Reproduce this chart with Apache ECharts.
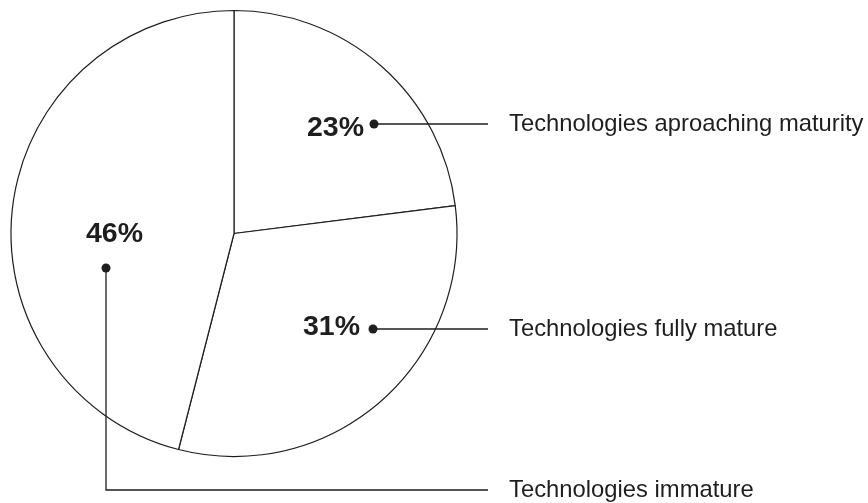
<!DOCTYPE html>
<html>
<head>
<meta charset="utf-8">
<script src="https://cdn.jsdelivr.net/npm/echarts@6/dist/echarts.min.js"></script>
<style>
  html, body { margin: 0; padding: 0; background: #fff; }
  #chart { width: 868px; height: 503px; }
</style>
</head>
<body>
<div id="chart"></div>
<script>
// slice data, clockwise from 12 o'clock
const names = ['Technologies aproaching maturity', 'Technologies fully mature', 'Technologies immature'];
const shares = [23, 31, 46];

// callout placement (pixels): percent text, dot, name text, leader line
const callouts = [
  { pct: [307, 128], dot: [374, 124], text: [509, 124], line: [[374, 124], [488, 124]] },
  { pct: [303, 327], dot: [373, 329], text: [509, 329], line: [[373, 329], [488, 329]] },
  { pct: [86, 234], dot: [106, 268], text: [509, 490], line: [[106, 268], [106, 490], [488, 490]] }
];

const pieData = names.map((n, i) => ({ name: n, value: shares[i] }));
const font = '"Liberation Sans", Arial, Helvetica, sans-serif';
const ink = '#1e1e1e';

const chart = echarts.init(document.getElementById('chart'));

const leaders = [];
callouts.forEach((c) => {
  leaders.push({
    type: 'polyline',
    z: 10,
    shape: { points: c.line },
    style: { stroke: ink, lineWidth: 1.3, fill: null }
  });
  leaders.push({
    type: 'circle',
    z: 11,
    shape: { cx: c.dot[0], cy: c.dot[1], r: 4.5 },
    style: { fill: ink }
  });
});

chart.setOption({
  backgroundColor: '#fff',
  animation: false,
  graphic: leaders,
  series: [
    {
      // the pie itself + names
      type: 'pie',
      center: [234, 233.5],
      radius: 223,
      startAngle: 90,
      clockwise: true,
      data: pieData,
      itemStyle: { color: '#fff', borderColor: ink, borderWidth: 1.2 },
      emphasis: { disabled: true },
      label: {
        show: true,
        position: 'inside',
        formatter: '{b}',
        color: ink,
        fontFamily: font,
        fontSize: 23.8
      },
      labelLine: { show: false },
      labelLayout: (p) => {
        const c = callouts[p.dataIndex];
        return { x: c.text[0], y: c.text[1], align: 'left', verticalAlign: 'middle' };
      }
    },
    {
      // percentages
      type: 'pie',
      center: [234, 233.5],
      radius: 223,
      startAngle: 90,
      clockwise: true,
      silent: true,
      z: 5,
      data: pieData,
      itemStyle: { color: 'transparent', borderWidth: 0 },
      emphasis: { disabled: true },
      labelLine: { show: false },
      label: {
        show: true,
        position: 'inside',
        formatter: '{c}%',
        fontFamily: font,
        fontWeight: 'bold',
        fontSize: 28.5,
        color: ink
      },
      labelLayout: (p) => {
        const c = callouts[p.dataIndex];
        return { x: c.pct[0], y: c.pct[1], align: 'left', verticalAlign: 'middle' };
      }
    }
  ]
});
</script>
</body>
</html>
